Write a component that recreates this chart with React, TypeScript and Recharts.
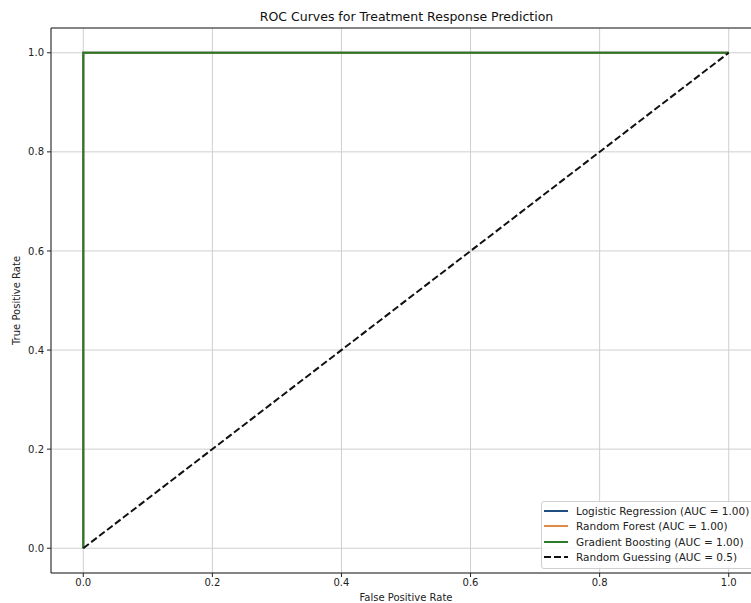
import {
  LineChart,
  Line,
  XAxis,
  YAxis,
  CartesianGrid,
  ReferenceArea,
  Legend,
} from "recharts";

const modelNames = ["Logistic Regression", "Random Forest", "Gradient Boosting"];
const modelAuc = ["1.00", "1.00", "1.00"];
const modelColors = ["#1f4e80", "#e08a45", "#2a7a2a"];

// roc points per model (all perfect classifiers)
const fprLR = [0, 0, 1];
const tprLR = [0, 1, 1];
const fprRF = [0, 0, 1];
const tprRF = [0, 1, 1];
const fprGB = [0, 0, 1];
const tprGB = [0, 1, 1];

const fprRandom = [0, 1];
const tprRandom = [0, 1];
const randomName = "Random Guessing";
const randomAuc = "0.5";

const axisTicks = [0, 0.2, 0.4, 0.6, 0.8, 1.0];

const toPoints = (fpr: number[], tpr: number[]) =>
  fpr.map((f, i) => ({ fpr: f, tpr: tpr[i] }));

const modelCurves = [
  toPoints(fprLR, tprLR),
  toPoints(fprRF, tprRF),
  toPoints(fprGB, tprGB),
];
const randomCurve = toPoints(fprRandom, tprRandom);

const modelLabels = modelNames.map((n, i) => `${n} (AUC = ${modelAuc[i]})`);
const randomLabel = `${randomName} (AUC = ${randomAuc})`;
const legendOrder = [...modelLabels, randomLabel];

const FONT = "'DejaVu Sans', sans-serif";
const tickStyle = { fontSize: 10, fill: "#222", fontFamily: FONT };

function LegendBox(props: any) {
  // keep plotting order instead of recharts' alphabetical sort
  const items = [...(props.payload || [])].sort(
    (a: any, b: any) => legendOrder.indexOf(a.value) - legendOrder.indexOf(b.value)
  );
  return (
    <div
      style={{
        border: "1px solid #d0d0d0",
        borderRadius: 3,
        background: "rgba(255,255,255,0.85)",
        padding: "1px 0 3px 1px",
        width: 230,
        fontFamily: FONT,
        fontSize: 10.5,
        color: "#222",
      }}
    >
      {items.map((it: any) => (
        <div
          key={it.value}
          style={{ display: "flex", alignItems: "center", height: 15.5, whiteSpace: "nowrap" }}
        >
          <svg width={26} height={6} style={{ marginRight: 7 }}>
            <line
              x1={1}
              x2={25}
              y1={3}
              y2={3}
              stroke={it.color}
              strokeWidth={2}
              strokeDasharray={it.payload?.strokeDasharray}
            />
          </svg>
          <span>{it.value}</span>
        </div>
      ))}
    </div>
  );
}

export default function App() {
  return (
    <div
      style={{
        position: "fixed",
        left: 0,
        top: 0,
        width: 751,
        height: 603,
        overflow: "hidden",
        background: "#fff",
      }}
    >
      <div
        style={{
          position: "absolute",
          left: 0,
          top: 11,
          width: 813,
          textAlign: "center",
          fontFamily: FONT,
          fontSize: 12.5,
          lineHeight: "12.5px",
          color: "#111",
        }}
      >
        ROC Curves for Treatment Response Prediction
      </div>
      <LineChart
        width={781}
        height={603}
        margin={{ top: 28, right: 20, bottom: 0, left: 0 }}
      >
        <CartesianGrid stroke="#cfcfcf" strokeWidth={1} />
        <XAxis
          dataKey="fpr"
          type="number"
          domain={[-0.05, 1.05]}
          ticks={axisTicks}
          tickFormatter={(v: number) => v.toFixed(1)}
          allowDataOverflow
          height={30}
          axisLine={false}
          tickLine={{ stroke: "#222" }}
          tickSize={4}
          tickMargin={2}
          tick={tickStyle}
          label={{
            value: "False Positive Rate",
            position: "insideBottom",
            offset: 2,
            style: { fontSize: 10, fill: "#222", fontFamily: FONT },
          }}
        />
        <YAxis
          dataKey="tpr"
          type="number"
          domain={[-0.05, 1.05]}
          ticks={axisTicks}
          tickFormatter={(v: number) => v.toFixed(1)}
          allowDataOverflow
          width={51}
          axisLine={false}
          tickLine={{ stroke: "#222" }}
          tickSize={4}
          tickMargin={3}
          tick={tickStyle}
          label={{
            value: "True Positive Rate",
            angle: -90,
            position: "insideLeft",
            offset: 16,
            style: { fontSize: 10, fill: "#222", fontFamily: FONT, textAnchor: "middle" },
          }}
        />
        <ReferenceArea
          x1={-0.05}
          x2={1.05}
          y1={-0.05}
          y2={1.05}
          fill="none"
          fillOpacity={0}
          stroke="#222"
          strokeWidth={1}
        />
        {modelNames.map((name, i) => (
          <Line
            key={name}
            data={modelCurves[i]}
            dataKey="tpr"
            name={modelLabels[i]}
            type="linear"
            stroke={modelColors[i]}
            strokeWidth={2}
            dot={false}
            activeDot={false}
            isAnimationActive={false}
          />
        ))}
        <Line
          data={randomCurve}
          dataKey="tpr"
          name={randomLabel}
          type="linear"
          stroke="#111"
          strokeWidth={2}
          strokeDasharray="7 3"
          dot={false}
          activeDot={false}
          isAnimationActive={false}
        />
        <Legend
          layout="vertical"
          align="center"
          verticalAlign="middle"
          content={<LegendBox />}
          wrapperStyle={{ position: "absolute", left: 541, top: 501, width: 232 }}
        />
      </LineChart>
    </div>
  );
}
